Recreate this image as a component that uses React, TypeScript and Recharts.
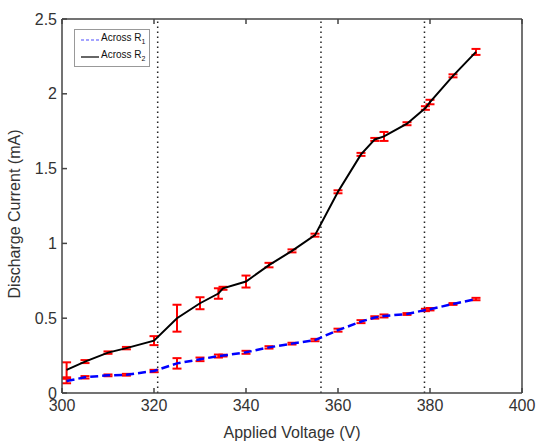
import {
  ComposedChart,
  ErrorBar,
  Line,
  ReferenceLine,
  XAxis,
  YAxis,
} from "recharts";

const volts = [301, 305, 310, 314, 320, 325, 330, 334, 335, 340, 345, 350, 355, 360, 365, 368, 370, 375, 379, 380, 385, 390];
const acrossR1 = [0.08, 0.105, 0.118, 0.122, 0.147, 0.198, 0.225, 0.247, 0.25, 0.272, 0.305, 0.33, 0.354, 0.42, 0.477, 0.505, 0.515, 0.528, 0.555, 0.56, 0.595, 0.628];
const errR1 = [0.015, 0.008, 0.006, 0.006, 0.008, 0.035, 0.012, 0.01, 0.006, 0.01, 0.008, 0.006, 0.008, 0.01, 0.01, 0.008, 0.01, 0.006, 0.008, 0.008, 0.006, 0.008];
const acrossR2 = [0.155, 0.21, 0.27, 0.3, 0.35, 0.5, 0.6, 0.665, 0.7, 0.745, 0.855, 0.95, 1.055, 1.345, 1.595, 1.695, 1.715, 1.8, 1.905, 1.945, 2.12, 2.28];
const errR2 = [0.05, 0.01, 0.008, 0.008, 0.03, 0.09, 0.04, 0.035, 0.01, 0.04, 0.015, 0.01, 0.01, 0.01, 0.01, 0.01, 0.03, 0.01, 0.012, 0.015, 0.01, 0.02];

const xTicks = [300, 320, 340, 360, 380, 400];
const yTicks = [0, 0.5, 1, 1.5, 2, 2.5];
const markers = [320.8, 356.3, 378.8];

const data = volts.map((v, i) => ({
  v,
  r1: acrossR1[i],
  e1: errR1[i],
  r2: acrossR2[i],
  e2: errR2[i],
}));

const FONT = '"Liberation Sans", Arial, sans-serif';
const AXIS_COLOR = "#444";
const TICK = { fill: "#333", fontSize: 16, fontFamily: FONT };

function LegendBox() {
  const row = (label: string, sub: string, color: string, dash?: string) => (
    <div style={{ display: "flex", alignItems: "center", height: 17 }}>
      <svg width={20} height={6} style={{ marginRight: 1 }}>
        <line x1={1} y1={3} x2={19} y2={3} stroke={color} strokeWidth={1.2} strokeDasharray={dash} />
      </svg>
      <span>
        {label}
        <sub style={{ fontSize: 7 }}>{sub}</sub>
      </span>
    </div>
  );
  return (
    <div
      style={{
        position: "absolute",
        left: 74,
        top: 29,
        border: "1px solid #999",
        background: "#fff",
        width: 76,
        padding: "1px 0 1px 5px",
        fontSize: 10,
        fontFamily: FONT,
        color: "#111",
        lineHeight: "10px",
        boxSizing: "border-box",
      }}
    >
      {row("Across R", "1", "#4a4aff", "3 2")}
      {row("Across R", "2", "#000")}
    </div>
  );
}

export default function App() {
  return (
    <div style={{ position: "absolute", left: 0, top: 0, width: 539, height: 441, background: "#fff" }}>
      <ComposedChart
        width={539}
        height={441}
        data={data}
        margin={{ top: 18, right: 16, bottom: 0, left: 12 }}
      >
        <XAxis
          dataKey="v"
          type="number"
          domain={[300, 400]}
          ticks={xTicks}
          height={48}
          tickSize={-5}
          tickMargin={12}
          stroke={AXIS_COLOR}
          strokeWidth={1.5}
          tick={TICK}
          label={{ value: "Applied Voltage (V)", position: "insideBottom", offset: 3, fill: "#333", fontSize: 16, fontFamily: FONT }}
        />
        <XAxis
          xAxisId="top"
          orientation="top"
          dataKey="v"
          type="number"
          domain={[300, 400]}
          ticks={xTicks}
          height={1}
          tickSize={-5}
          tickFormatter={() => ""}
          stroke={AXIS_COLOR}
          strokeWidth={1.5}
        />
        <YAxis
          type="number"
          domain={[0, 2.5]}
          ticks={yTicks}
          width={50}
          tickSize={-5}
          tickMargin={10}
          stroke={AXIS_COLOR}
          strokeWidth={1.5}
          tick={TICK}
        />
        <YAxis
          yAxisId="right"
          orientation="right"
          type="number"
          domain={[0, 2.5]}
          ticks={yTicks}
          width={1}
          tickSize={-5}
          tickFormatter={() => ""}
          stroke={AXIS_COLOR}
          strokeWidth={1.5}
        />
        {markers.map((m) => (
          <ReferenceLine key={m} x={m} stroke="#222" strokeWidth={1.5} strokeDasharray="1.5 3.5" />
        ))}
        <Line
          dataKey="r1"
          stroke="#0000ff"
          strokeWidth={2.5}
          strokeDasharray="8 4"
          dot={false}
          isAnimationActive={false}
        >
          <ErrorBar dataKey="e1" direction="y" width={4.5} stroke="#ff0000" strokeWidth={2} />
        </Line>
        <Line
          dataKey="r2"
          stroke="#000"
          strokeWidth={2}
          dot={false}
          isAnimationActive={false}
        >
          <ErrorBar dataKey="e2" direction="y" width={4.5} stroke="#ff0000" strokeWidth={2} />
        </Line>
      </ComposedChart>
      <LegendBox />
      <div
        style={{
          position: "absolute",
          left: 15,
          top: 214,
          transform: "translate(-50%, -50%) rotate(-90deg)",
          whiteSpace: "nowrap",
          fontSize: 16,
          fontFamily: FONT,
          color: "#333",
        }}
      >
        Discharge Current (mA)
      </div>
    </div>
  );
}
